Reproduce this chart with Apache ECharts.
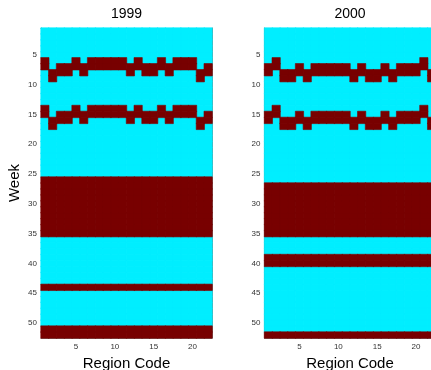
<!DOCTYPE html>
<html>
<head>
<meta charset="utf-8">
<script src="https://cdn.jsdelivr.net/npm/echarts@6/dist/echarts.min.js"></script>
<style>html,body{margin:0;padding:0;background:#fff;}#c{width:431px;height:370px;}</style>
</head>
<body>
<div id="c"></div>
<script>
// ---- data ----
var years = ['1999', '2000'];
var regions = [1,2,3,4,5,6,7,8,9,10,11,12,13,14,15,16,17,18,19,20,21,22];
var weeks = [];
for (var w = 1; w <= 52; w++) weeks.push(w);
var xTickLabels = [5, 10, 15, 20];
var yTickLabels = [5, 10, 15, 20, 25, 30, 35, 40, 45, 50];

// first week of each two-week dark run, per region
var band1Start1999 = [6,8,7,7,6,7,6,6,6,6,6,7,6,7,7,6,7,6,6,6,8,7];
var band2Start1999 = [14,16,15,15,14,15,14,14,14,14,14,15,14,15,15,14,15,14,14,14,16,15];
var band1Start2000 = [7,6,8,8,7,8,7,7,7,7,7,8,7,8,8,7,8,7,7,7,6,8];
var band2Start2000 = [15,14,16,16,15,16,15,15,15,15,15,16,15,16,16,15,16,15,15,15,14,16];
// weeks dark across all regions
var fullDark1999 = [26,27,28,29,30,31,32,33,34,35,44,51,52];
var fullDark2000 = [27,28,29,30,31,32,33,34,35,39,40,52];

function buildCells(b1, b2, full, want) {
  var out = [];
  for (var r = 0; r < regions.length; r++) {
    for (var k = 0; k < weeks.length; k++) {
      var wk = weeks[k];
      var v = 0;
      if (wk === b1[r] || wk === b1[r] + 1) v = 1;
      if (wk === b2[r] || wk === b2[r] + 1) v = 1;
      if (full.indexOf(wk) >= 0) v = 1;
      if (v === want) out.push([r, k, v]);
    }
  }
  return out;
}

// ---- chart ----
var FONT = 'Liberation Sans, Arial, Helvetica, sans-serif';
var AX = '#808080';
var CYAN = '#00EEFF', DARK = '#780000';
function isTick(list) {
  return function (idx, val) { return list.indexOf(Number(val)) >= 0; };
}
var grids = [
  {left: 41, top: 28, width: 171, height: 310, outerBoundsMode: 'none', containLabel: false},
  {left: 264.5, top: 28, width: 171, height: 310, outerBoundsMode: 'none', containLabel: false}
];
var xAxes = [], yAxes = [];
for (var g = 0; g < 2; g++) {
  xAxes.push({
    type: 'category', gridIndex: g, data: regions, position: 'bottom',
    axisLine: {show: true, lineStyle: {color: AX, width: 1}},
    axisTick: {show: true, inside: true, length: 3, alignWithLabel: true, interval: isTick(xTickLabels), lineStyle: {color: AX}},
    axisLabel: {show: true, interval: isTick(xTickLabels), color: '#333', fontSize: 8, fontFamily: FONT, margin: 5},
    splitLine: {show: false},
    name: 'Region Code', nameLocation: 'middle', nameGap: 16,
    nameTextStyle: {fontSize: 15, fontFamily: FONT, color: '#000'}
  });
  xAxes.push({
    type: 'category', gridIndex: g, data: regions, position: 'top',
    axisLine: {show: true, lineStyle: {color: AX, width: 1}},
    axisTick: {show: true, inside: true, length: 3, alignWithLabel: true, interval: isTick(xTickLabels), lineStyle: {color: AX}},
    axisLabel: {show: false}, splitLine: {show: false},
    name: years[g], nameLocation: 'middle', nameGap: 7,
    nameTextStyle: {fontSize: 14, fontFamily: FONT, color: '#000'}
  });
  yAxes.push({
    type: 'category', gridIndex: g, data: weeks, inverse: true, position: 'left',
    axisLine: {show: true, lineStyle: {color: AX, width: 1}},
    axisTick: {show: true, inside: true, length: 3, alignWithLabel: true, interval: isTick(yTickLabels), lineStyle: {color: AX}},
    axisLabel: {show: true, interval: isTick(yTickLabels), color: '#333', fontSize: 8, fontFamily: FONT, margin: 4},
    splitLine: {show: false},
    name: g === 0 ? 'Week' : '', nameLocation: 'middle', nameGap: 19, nameRotate: 90,
    nameTextStyle: {fontSize: 15, fontFamily: FONT, color: '#000'}
  });
  yAxes.push({
    type: 'category', gridIndex: g, data: weeks, inverse: true, position: 'right',
    axisLine: {show: true, lineStyle: {color: AX, width: 1}},
    axisTick: {show: true, inside: true, length: 3, alignWithLabel: true, interval: isTick(yTickLabels), lineStyle: {color: AX}},
    axisLabel: {show: false}, splitLine: {show: false}
  });
}

function cellSeries(xi, yi, cells, color) {
  return {type: 'heatmap', xAxisIndex: xi, yAxisIndex: yi, data: cells, z: 1,
    itemStyle: {color: color, borderColor: color, borderWidth: 0.6},
    emphasis: {disabled: true}};
}

var chart = echarts.init(document.getElementById('c'), null, {renderer: 'canvas'});
chart.setOption({
  animation: false,
  backgroundColor: '#fff',
  grid: grids,
  xAxis: xAxes,
  yAxis: yAxes,
  series: [
    cellSeries(0, 0, buildCells(band1Start1999, band2Start1999, fullDark1999, 0), CYAN),
    cellSeries(0, 0, buildCells(band1Start1999, band2Start1999, fullDark1999, 1), DARK),
    cellSeries(2, 2, buildCells(band1Start2000, band2Start2000, fullDark2000, 0), CYAN),
    cellSeries(2, 2, buildCells(band1Start2000, band2Start2000, fullDark2000, 1), DARK)
  ]
});
</script>
</body>
</html>
